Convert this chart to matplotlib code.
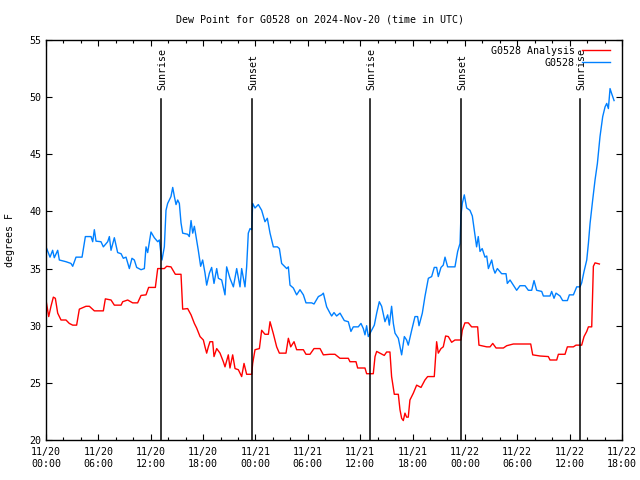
import matplotlib
matplotlib.use("Agg")
import matplotlib.pyplot as plt
from matplotlib.ticker import MultipleLocator

# hours since 2024-11-20 00:00 UTC
obs_hours = [0.0, 0.46, 0.76, 0.95, 1.34, 1.53, 2.29, 2.86, 3.06, 3.44, 4.13, 4.51, 5.16, 5.35,
             5.54, 5.73, 6.3, 6.57, 7.07, 7.26, 7.45, 7.83, 8.21, 8.6, 8.86, 9.17, 9.55, 9.85,
             10.12, 10.39, 10.89, 11.27, 11.46, 11.65, 12.03, 12.41, 12.8, 12.99, 13.18, 13.29,
             13.56, 13.75, 13.94, 14.32, 14.52, 14.71, 14.9, 15.09, 15.28, 15.47, 15.66, 16.23,
             16.42, 16.62, 16.81, 17.0, 17.26, 17.45, 17.72, 17.95, 18.22, 18.41, 18.72, 18.98,
             19.25, 19.56, 19.75, 20.13, 20.51, 20.7, 21.08, 21.47, 21.85, 22.23, 22.42, 22.8,
             22.99, 23.18, 23.38, 23.57, 23.68, 23.95, 24.33, 24.71, 25.09, 25.36, 25.67, 26.05,
             26.51, 26.74, 27.0, 27.58, 27.77, 27.96, 28.34, 28.72, 29.1, 29.49, 29.79, 30.44,
             30.71, 31.21, 31.59, 31.78, 32.16, 32.54, 32.73, 33.0, 33.3, 33.69, 34.18, 34.64,
             34.94, 35.21, 35.78, 36.09, 36.36, 36.55, 36.74, 36.93, 37.24, 37.62, 37.89, 38.19,
             38.46, 38.84, 39.15, 39.34, 39.6, 39.8, 39.99, 40.37, 40.56, 40.75, 41.06, 41.32,
             41.51, 41.9, 42.28, 42.58, 42.74, 43.12, 43.42, 43.81, 44.19, 44.49, 44.76, 44.95,
             45.26, 45.52, 45.72, 46.02, 46.86, 47.17, 47.44, 47.55, 47.7, 47.93, 48.2, 48.58,
             48.85, 49.15, 49.34, 49.53, 49.73, 49.98, 50.3, 50.5, 50.69, 51.07, 51.26, 51.45,
             51.72, 52.21, 52.71, 52.86, 53.17, 53.55, 53.93, 54.31, 54.89, 55.27, 55.65, 55.92,
             56.22, 56.8, 56.99, 57.75, 57.94, 58.21, 58.44, 58.9, 59.2, 59.74, 59.97, 60.43,
             60.81, 61.19, 61.38, 61.65, 61.96, 62.15, 62.34, 62.64, 62.91, 63.18, 63.48, 63.79,
             64.06, 64.25, 64.44, 64.63, 64.82, 65.09]
obs_dewpt = [36.9, 36.0, 36.6, 35.95, 36.6, 35.75, 35.6, 35.45, 35.2, 36.0, 36.0, 37.8, 37.8, 37.35,
             38.4, 37.4, 37.35, 36.9, 37.35, 37.8, 36.6, 37.7, 36.4, 36.3, 35.9, 36.0, 35.0, 35.9,
             35.75, 35.1, 34.9, 35.0, 36.9, 36.4, 38.2, 37.7, 37.35, 37.5, 36.25, 35.75,
             36.9, 40.1, 40.7, 41.3, 42.1, 41.3, 40.6, 41.0, 40.7, 39.0, 38.1, 38.0,
             37.8, 39.2, 38.1, 38.7, 37.5, 36.6, 35.2, 35.75, 34.6, 33.55, 34.6, 35.1,
             33.7, 35.0, 34.15, 34.0, 32.7, 35.15, 34.15, 33.4, 35.0, 33.4, 35.0, 33.4,
             35.15, 38.1, 38.5, 38.4, 40.7, 40.3, 40.6, 40.1, 39.1, 39.4, 38.1, 36.9,
             36.9, 36.75, 35.45, 35.0, 35.15, 33.55, 33.3, 32.7, 33.15, 32.7, 32.0, 32.0,
             31.9, 32.55, 32.7, 32.85, 31.65, 31.1, 30.85, 31.15, 30.85, 31.1, 30.45, 30.35,
             29.5, 29.9, 29.9, 30.2, 29.75, 29.2, 30.0, 29.05, 29.5, 30.05, 31.1, 32.1,
             31.7, 30.35, 30.95, 30.05, 31.7, 30.2, 29.35, 28.9, 28.15, 27.45, 29.05, 28.75,
             28.3, 29.6, 30.8, 30.8, 30.0, 31.1, 32.55, 34.15, 34.3, 35.1, 35.1, 34.3,
             35.1, 35.3, 36.0, 35.15, 35.15, 36.5, 37.2, 39.7, 40.7, 41.45, 40.3, 40.1,
             39.6, 37.95, 36.9, 37.8, 36.5, 36.75, 36.0, 36.1, 35.0, 35.75, 35.0, 34.6,
             35.0, 34.55, 34.55, 33.7, 34.0, 33.55, 33.1, 33.5, 33.5, 33.1, 33.1, 33.95,
             33.1, 33.0, 32.6, 32.6, 33.0, 32.4, 32.85, 32.6, 32.2, 32.2, 32.7, 32.7,
             33.4, 33.4, 33.75, 34.75, 35.75, 37.2, 38.95, 41.0, 42.75, 44.2, 46.55, 48.3,
             49.15, 49.45, 49.0, 50.75, 50.3, 49.7]

ana_hours = [0.0, 0.31, 0.57, 0.84, 1.07, 1.34, 1.72, 2.29, 2.67, 3.06, 3.51, 3.82, 4.58, 4.97,
             5.54, 6.57, 6.8, 7.45, 7.83, 8.6, 8.79, 9.36, 9.93, 10.5, 10.89, 11.46, 11.76, 12.53,
             12.8, 13.56, 13.83, 14.32, 14.82, 15.47, 15.66, 16.23, 16.62, 17.0, 17.26, 17.65,
             18.03, 18.22, 18.41, 18.6, 18.79, 19.1, 19.25, 19.56, 19.94, 20.32, 20.51, 20.89,
             21.08, 21.39, 21.66, 22.04, 22.42, 22.69, 22.99, 23.57, 23.68, 23.95, 24.45, 24.71,
             25.09, 25.48, 25.67, 26.05, 26.43, 26.74, 27.5, 27.77, 28.04, 28.42, 28.72, 29.49,
             29.79, 30.25, 30.71, 31.4, 31.78, 32.54, 33.11, 33.68, 34.64, 34.83, 35.52, 35.71,
             36.55, 36.74, 37.5, 37.7, 37.89, 38.27, 38.76, 39.03, 39.41, 39.6, 39.91, 40.37,
             40.56, 40.75, 40.94, 41.13, 41.32, 41.51, 41.7, 42.09, 42.47, 42.97, 43.42, 43.73,
             44.49, 44.76, 44.95, 45.26, 45.52, 45.79, 46.1, 46.48, 46.86, 47.55, 47.7, 48.0,
             48.39, 48.77, 49.46, 49.61, 50.5, 50.88, 51.19, 51.57, 52.41, 52.79, 53.55, 55.54,
             55.77, 56.61, 57.56, 57.75, 58.52, 58.71, 59.47, 59.74, 60.43, 60.73, 61.38, 61.65,
             61.96, 62.15, 62.53, 62.72, 62.91, 63.41]
ana_dewpt = [32.25, 30.8, 31.7, 32.5, 32.4, 31.1, 30.5, 30.5, 30.2, 30.05, 30.05, 31.45, 31.7, 31.7,
             31.3, 31.3, 32.35, 32.25, 31.8, 31.8, 32.1, 32.25, 32.0, 32.0, 32.65, 32.7, 33.35, 33.35,
             35.0, 35.0, 35.2, 35.15, 34.5, 34.5, 31.45, 31.5, 30.95, 30.2, 29.8, 29.05,
             28.75, 28.15, 27.6, 28.15, 28.6, 28.6, 27.3, 28.0, 27.6, 26.85, 26.4, 27.45,
             26.3, 27.45, 26.25, 26.15, 25.55, 26.7, 25.75, 25.75, 26.7, 27.9, 28.0, 29.6,
             29.25, 29.25, 30.35, 29.3, 28.15, 27.6, 27.6, 28.9, 28.15, 28.6, 27.9, 27.9,
             27.5, 27.5, 28.0, 28.0, 27.45, 27.5, 27.5, 27.15, 27.15, 26.85, 26.85, 26.3,
             26.3, 25.8, 25.8, 27.3, 27.75, 27.6, 27.4, 27.7, 27.7, 25.55, 24.0, 24.0,
             22.65, 21.9, 21.7, 22.35, 22.0, 22.0, 23.5, 24.1, 24.8, 24.6, 25.25, 25.55,
             25.55, 28.6, 27.6, 28.0, 28.15, 29.1, 29.05, 28.55, 28.75, 28.75, 29.6, 30.25,
             30.25, 29.9, 29.9, 28.3, 28.15, 28.15, 28.45, 28.05, 28.05, 28.25, 28.4, 28.4,
             27.45, 27.35, 27.3, 27.0, 27.0, 27.5, 27.5, 28.15, 28.15, 28.3, 28.3, 29.05,
             29.5, 29.9, 29.9, 35.2, 35.5, 35.4]

sun_hours = [13.2, 23.65, 37.15, 47.6, 61.2]
sun_labels = ["Sunrise", "Sunset", "Sunrise", "Sunset", "Sunrise"]

tick_hours = list(range(0, 67, 6))
tick_labels = ["11/20\n00:00", "11/20\n06:00", "11/20\n12:00", "11/20\n18:00",
               "11/21\n00:00", "11/21\n06:00", "11/21\n12:00", "11/21\n18:00",
               "11/22\n00:00", "11/22\n06:00", "11/22\n12:00", "11/22\n18:00"]

plt.rcParams['font.family'] = ['DejaVu Sans Mono']
fs = 7.2

fig = plt.figure(figsize=(6.4, 4.8), dpi=100)
ax = fig.add_axes([46/640, 40/480, 576/640, 400/480])

ax.plot(ana_hours, ana_dewpt, color='#ff0000', lw=1.0, label='G0528 Analysis')
ax.plot(obs_hours, obs_dewpt, color='#0080ff', lw=1.0, label='G0528')

for h, lab in zip(sun_hours, sun_labels):
    ax.axvline(h, ymin=0, ymax=0.8525, color='black', lw=1.1)
    ax.text(h + 0.15, 50.65, lab, rotation=90, ha='center', va='bottom', fontsize=fs)

ax.set_xlim(0, 66)
ax.set_ylim(20, 55)
ax.set_xticks(tick_hours)
ax.set_xticklabels(tick_labels, fontsize=fs, linespacing=1.3)
ax.xaxis.set_minor_locator(MultipleLocator(2))
ax.set_yticks(range(20, 56, 5))
ax.tick_params(axis='y', labelsize=fs)
ax.tick_params(which='both', direction='in', top=True, right=True, width=0.8)
ax.tick_params(which='major', length=4)
ax.tick_params(which='minor', length=2.5)
ax.tick_params(axis='x', pad=5)
for s in ax.spines.values():
    s.set_linewidth(1.0)

ax.set_ylabel('degrees F', fontsize=fs, labelpad=10)
fig.text(0.5, 1 - 19/480, 'Dew Point for G0528 on 2024-Nov-20 (time in UTC)',
         ha='center', va='center', fontsize=fs)

ax.legend(loc='upper right', bbox_to_anchor=(0.979, 0.985), frameon=False, markerfirst=False,
          fontsize=fs, handlelength=2.8, handletextpad=0.7, labelspacing=0.2,
          borderaxespad=0, borderpad=0)

fig.savefig('out.png', dpi=100)
